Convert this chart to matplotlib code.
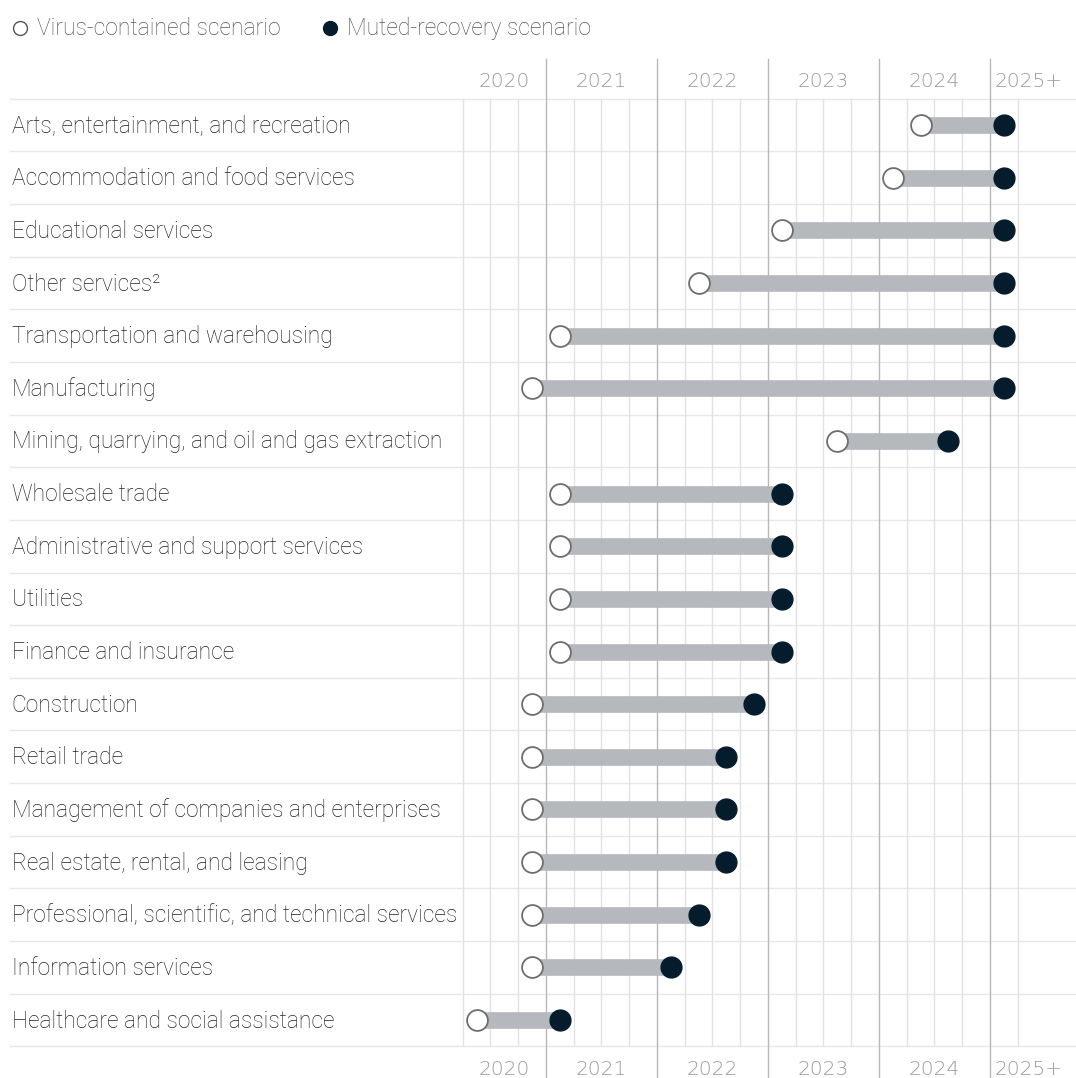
import matplotlib
matplotlib.use("Agg")
import matplotlib.pyplot as plt
import matplotlib.transforms as mtransforms

# Industries, top to bottom, with the quarter each scenario gets back to pre-crisis GDP
industries = [
    "Arts, entertainment, and recreation",
    "Accommodation and food services",
    "Educational services",
    "Other services\u00b2",
    "Transportation and warehousing",
    "Manufacturing",
    "Mining, quarrying, and oil and gas extraction",
    "Wholesale trade",
    "Administrative and support services",
    "Utilities",
    "Finance and insurance",
    "Construction",
    "Retail trade",
    "Management of companies and enterprises",
    "Real estate, rental, and leasing",
    "Professional, scientific, and technical services",
    "Information services",
    "Healthcare and social assistance",
]
virus_contained = [
    "2024Q2", "2024Q1", "2023Q1", "2022Q2", "2021Q1", "2020Q4", "2023Q3",
    "2021Q1", "2021Q1", "2021Q1", "2021Q1", "2020Q4", "2020Q4", "2020Q4",
    "2020Q4", "2020Q4", "2020Q4", "2020Q2",
]
muted_recovery = [
    "2025Q1", "2025Q1", "2025Q1", "2025Q1", "2025Q1", "2025Q1", "2024Q3",
    "2023Q1", "2023Q1", "2023Q1", "2023Q1", "2022Q4", "2022Q3", "2022Q3",
    "2022Q3", "2022Q2", "2022Q1", "2021Q1",
]
year_labels = ["2020", "2021", "2022", "2023", "2024", "2025+"]
first_quarter, last_quarter = "2020Q2", "2025Q1"

NAVY = "#051c2c"
BAR = "#b5b9bd"
TEXT = "#222222"
AXIS_TEXT = "#9a9a9a"
FONT = "Roboto"


def qpos(q, center=True):
    year, n = int(q[:4]), int(q[-1])
    return year + (n - 1) / 4 + (0.125 if center else 0.0)


fig = plt.figure(figsize=(10.76, 10.78), dpi=100)
ax = fig.add_axes([0, 0, 1, 1])
ax.set_axis_off()
ax.set_xlim(2016.081, 2025.775)
ax.set_ylim(18.10, -2.374)

n = len(industries)
rows = list(range(n))
x0 = qpos(first_quarter, center=False)
x1 = qpos(last_quarter, center=False) + 0.25
label_tr = mtransforms.blended_transform_factory(fig.transFigure, ax.transData)

# horizontal row separators
for k in range(n + 1):
    ax.axhline(k - 0.5, xmin=0.009, xmax=1, color="#e8e8e8", lw=1.0, zorder=0)

# quarter and year gridlines
q = x0
while q <= x1 + 1e-9:
    if abs(q - round(q)) < 1e-9 and 2020 < q < 2026:
        ax.plot([q, q], [-1.25, 18.2], color="#b8b8b8", lw=1.0, zorder=1)
    else:
        ax.plot([q, q], [-0.5, n - 0.5], color="#e2e2e2", lw=1.0, zorder=1)
    q += 0.25

# year labels above and below the grid; the open-ended last one sits left-aligned
for i, lab in enumerate(year_labels):
    yr = 2020 + i
    ha = "center"
    if lab == "2020":
        xc = (x0 + 2021) / 2
    elif lab.endswith("+"):
        xc, ha = 2025 + 0.04, "left"
    else:
        xc = yr + 0.5
    for yy in (-0.82, 17.93):
        ax.text(xc, yy, lab, ha=ha, va="center", fontsize=14.5,
                color=AXIS_TEXT, family="DejaVu Sans", fontweight="light")

# category labels
for r, name in zip(rows, industries):
    ax.text(0.011, r + 0.02, name, transform=label_tr, ha="left", va="center",
            fontsize=16.4, color=TEXT, family=FONT, fontweight="light")

# dumbbells
for r, a, b in zip(rows, virus_contained, muted_recovery):
    xa, xb = qpos(a), qpos(b)
    ax.plot([xa, xb], [r, r], color=BAR, lw=12, solid_capstyle="butt", zorder=2)
    ax.plot(xa, r, "o", ms=15, mfc="white", mec="#6e6e6e", mew=1.3, zorder=3)
    ax.plot(xb, r, "o", ms=15, mfc=NAVY, mec=NAVY, mew=1.0, zorder=3)

# legend row
leg_y = 0.974
fig.lines.append(plt.Line2D([0.0186], [leg_y], marker="o", ms=10, mfc="white",
                            mec="#555555", mew=1.0, transform=fig.transFigure))
fig.text(0.034, leg_y, "Virus-contained scenario", ha="left", va="center",
         fontsize=16.5, color="#555555", family=FONT, fontweight="light")
fig.lines.append(plt.Line2D([0.3067], [leg_y], marker="o", ms=10, mfc=NAVY,
                            mec=NAVY, transform=fig.transFigure))
fig.text(0.3225, leg_y, "Muted-recovery scenario", ha="left", va="center",
         fontsize=16.5, color="#555555", family=FONT, fontweight="light")

fig.savefig("out.png", dpi=100, facecolor="white")
